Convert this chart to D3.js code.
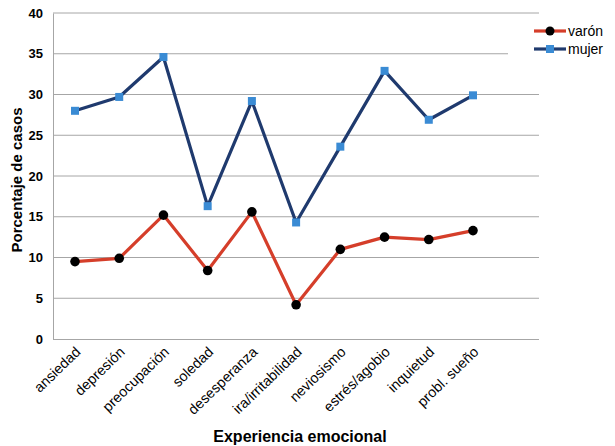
<!DOCTYPE html>
<html><head><meta charset="utf-8">
<script src="https://cdn.jsdelivr.net/npm/d3@7"></script>
<style>body{margin:0;background:#fff}svg{display:block;font-family:"Liberation Sans",Arial,sans-serif}</style>
</head><body><svg id="c" width="615" height="446"></svg>
<script>
const categories = ["ansiedad","depresión","preocupación","soledad","desesperanza","ira/irritabilidad","neviosismo","estrés/agobio","inquietud","probl. sueño"];
const varon = [9.5, 9.9, 15.2, 8.4, 15.6, 4.2, 11.0, 12.5, 12.2, 13.3];
const mujer = [28.0, 29.7, 34.6, 16.3, 29.2, 14.3, 23.6, 32.9, 26.9, 29.9];
const yTicks = [0,5,10,15,20,25,30,35,40];
const seriesNames = ["varón","mujer"];

const svg = d3.select("#c");
const L = 53, R = 539, T = 13, B = 339;
const x = d3.scalePoint().domain(categories).range([75, 473]);
const y = d3.scaleLinear().domain([0,40]).range([B, T]);

// gridlines
svg.append("g").selectAll("line").data(yTicks.filter(d=>d>0)).join("line")
  .attr("x1", L).attr("x2", R).attr("y1", d=>y(d)).attr("y2", d=>y(d))
  .attr("stroke", "#a6a6a6").attr("stroke-width", 1);

// axes
const ya = svg.append("g").attr("transform", `translate(${L},0)`)
  .call(d3.axisLeft(y).tickValues(yTicks).tickSize(0).tickPadding(10));
ya.select(".domain").attr("stroke", "#a6a6a6");
ya.selectAll("text").attr("font-size", 13).attr("font-weight", "bold").attr("fill", "#000")
  .attr("font-family", "Liberation Sans, Arial, sans-serif");

const xa = svg.append("g").attr("transform", `translate(0,${B})`)
  .call(d3.axisBottom(x).tickSize(0).tickPadding(0));
xa.select(".domain").attr("d", `M${L},0.5H${R}`).attr("stroke", "#a6a6a6");
xa.selectAll("text").attr("font-size", 14.3).attr("fill", "#000")
  .attr("font-family", "Liberation Sans, Arial, sans-serif")
  .attr("text-anchor", "end").attr("dy", null)
  .attr("transform", "translate(6,14) rotate(-44)");

// lines
const line = d3.line().x((d,i)=>x(categories[i])).y(d=>y(d));
svg.append("path").datum(mujer).attr("d", line).attr("fill","none").attr("stroke","#1f3a6e").attr("stroke-width",3.2).attr("stroke-linejoin","round");
svg.append("path").datum(varon).attr("d", line).attr("fill","none").attr("stroke","#d53e2a").attr("stroke-width",3.2).attr("stroke-linejoin","round");

svg.append("g").selectAll("rect").data(mujer).join("rect")
  .attr("x",(d,i)=>x(categories[i])-4).attr("y",d=>y(d)-4).attr("width",8).attr("height",8).attr("fill","#3a8bd4");
svg.append("g").selectAll("circle").data(varon).join("circle")
  .attr("cx",(d,i)=>x(categories[i])).attr("cy",d=>y(d)).attr("r",4.8).attr("fill","#000");

// legend
const lg = svg.append("g");
lg.append("rect").attr("x",508).attr("y",20).attr("width",107).attr("height",40).attr("fill","#fff");
const colors = ["#d53e2a","#1f3a6e"];
seriesNames.forEach((n,i)=>{
  const yy = 31 + i*18;
  lg.append("line").attr("x1",534).attr("x2",566).attr("y1",yy).attr("y2",yy).attr("stroke",colors[i]).attr("stroke-width",3.2);
  if(i===0) lg.append("circle").attr("cx",550).attr("cy",yy).attr("r",4.5).attr("fill","#000");
  else lg.append("rect").attr("x",546).attr("y",yy-4).attr("width",8).attr("height",8).attr("fill","#3a8bd4");
  lg.append("text").attr("x",568).attr("y",yy+5).attr("font-size",14).attr("fill","#000").text(n);
});

// titles
svg.append("text").attr("transform","translate(22,180) rotate(-90)").attr("text-anchor","middle")
  .attr("font-size",15).attr("font-weight","bold").text("Porcentaje de casos");
svg.append("text").attr("x",300).attr("y",442).attr("text-anchor","middle")
  .attr("font-size",16).attr("font-weight","bold").text("Experiencia emocional");
</script></body></html>
